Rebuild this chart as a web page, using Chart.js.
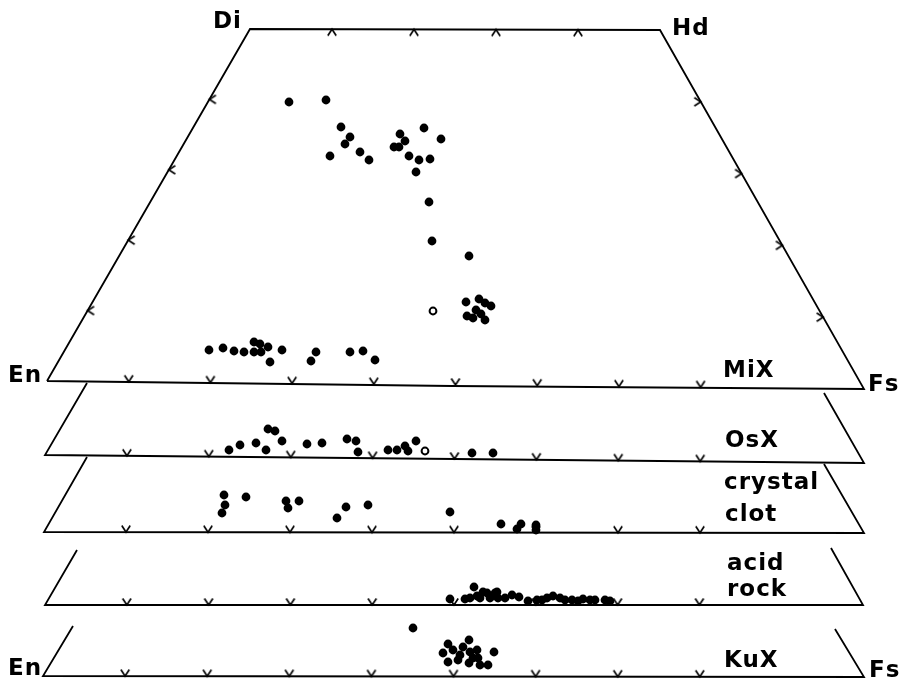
<!DOCTYPE html>
<html>
<head>
<meta charset="utf-8">
<script src="https://cdn.jsdelivr.net/npm/chart.js@4.4.1/dist/chart.umd.min.js"></script>
<style>
  body { margin: 0; background: #fff; }
  canvas { display: block; }
</style>
</head>
<body>
<canvas id="quad" width="904" height="681"></canvas>
<script>
// diagram units: x across the sheet, y down the sheet
const corners = {
    En: [47, 381], Di: [250, 29], Hd: [660, 30], Fs: [864, 389]
};
// stacked panels below the quadrilateral: [left top, left bottom, right bottom, right top]
const panelEdges = [
    [[87, 383], [45, 455], [864, 463], [824, 393]],   // OsX
    [[87, 457], [44, 532], [864, 533], [824, 464]],   // crystal clot
    [[77, 550], [45, 605], [863, 605], [831, 548]],   // acid rock
    [[73, 626], [43, 676], [864, 677], [835, 629]]    // KuX
];
const bottomTicks = [0.1, 0.2, 0.3, 0.4, 0.5, 0.6, 0.7, 0.8];
const sideTicks = [0.2, 0.4, 0.6, 0.8];

const mix = [
    [289, 102], [326, 100], [341, 127], [350, 137], [345, 144], [330, 156], [360, 152], [369, 160],
    [400, 134], [405, 141], [394, 147], [399, 147], [424, 128], [441, 139], [409, 156], [419, 160],
    [430, 159], [416, 172], [429, 202], [432, 241], [469, 256],
    [466, 302], [479, 299], [485, 303], [491, 306], [476, 310], [467, 316], [473, 318], [485, 320], [481, 314],
    [209, 350], [223, 348], [234, 351], [244, 352], [254, 342], [260, 344], [254, 352], [261, 352],
    [268, 347], [270, 362], [282, 350], [311, 361], [316, 352], [350, 352], [363, 351], [375, 360]
];
const mixOpen = [[433, 311]];
const osx = [
    [229, 450], [240, 445], [256, 443], [266, 450], [268, 429], [275, 431], [282, 441], [307, 444],
    [322, 443], [347, 439], [356, 441], [358, 452], [388, 450], [397, 450], [405, 446], [408, 451],
    [416, 441], [472, 453], [493, 453]
];
const osxOpen = [[425, 451]];
const clot = [
    [224, 495], [225, 505], [222, 513], [246, 497], [286, 501], [288, 508], [299, 501], [337, 518],
    [346, 507], [368, 505], [450, 512], [501, 524], [517, 529], [521, 524], [536, 525], [536, 530]
];
const acid = [
    [450, 599], [474, 587], [465, 599], [470, 598], [477, 596], [480, 598], [487, 593], [490, 598],
    [495, 593], [498, 598], [505, 598], [512, 595], [519, 597], [528, 601], [537, 600], [542, 600],
    [547, 598], [553, 596], [560, 598], [565, 600], [572, 600], [578, 601], [583, 599], [590, 600],
    [595, 600], [605, 600], [610, 601], [483, 592], [497, 592]
];
const kux = [
    [413, 628], [448, 644], [443, 653], [448, 662], [453, 650], [460, 655], [463, 647], [469, 640],
    [470, 652], [469, 663], [477, 650], [478, 658], [480, 665], [488, 665], [494, 652], [458, 660],
    [473, 658]
];

const labels = [
    {text: 'Di', at: [213, 28]}, {text: 'Hd', at: [672, 35]},
    {text: 'En', at: [8, 382]}, {text: 'Fs', at: [868, 391]},
    {text: 'MiX', at: [723, 377]}, {text: 'OsX', at: [725, 447]},
    {text: 'crystal', at: [724, 489]}, {text: 'clot', at: [725, 521]},
    {text: 'acid', at: [727, 570]}, {text: 'rock', at: [727, 596]},
    {text: 'KuX', at: [724, 667]},
    {text: 'En', at: [8, 675]}, {text: 'Fs', at: [869, 677]}
];

const pt = p => ({x: p[0], y: p[1]});
const along = (a, b, t) => ({x: a[0] + (b[0] - a[0]) * t, y: a[1] + (b[1] - a[1]) * t});

// small open chevron used for the scale ticks, vertex at the centre
const chevron = document.createElement('canvas');
chevron.width = 16; chevron.height = 16;
(function () {
    const c = chevron.getContext('2d');
    c.strokeStyle = '#000';
    c.lineWidth = 1.7;
    c.beginPath();
    c.moveTo(3.8, 1.5); c.lineTo(8, 8); c.lineTo(12.2, 1.5);
    c.stroke();
})();

const lineSet = pts => ({
    type: 'line', data: pts.map(pt), showLine: true, borderColor: '#000', borderWidth: 1.8,
    pointRadius: 0, fill: false, tension: 0
});
const tickSet = (pts, rot) => ({
    data: pts, pointStyle: chevron, rotation: rot, pointRadius: 8, showLine: false
});
const dotSet = pts => ({
    data: pts.map(pt), pointStyle: 'circle', pointRadius: 4.4, backgroundColor: '#000',
    borderColor: '#000', borderWidth: 0
});
const ringSet = pts => ({
    data: pts.map(pt), pointStyle: 'circle', pointRadius: 3.4, backgroundColor: '#fff',
    borderColor: '#000', borderWidth: 2
});

const {En, Di, Hd, Fs} = corners;
const datasets = [
    lineSet([En, Di, Hd, Fs, [452, 386], En]),
    tickSet(bottomTicks.map(t => along(En, Fs, t)), 0),
    tickSet(sideTicks.map(t => along(Di, Hd, t)), 180),
    tickSet(sideTicks.map(t => along(Di, En, t)), 90),
    tickSet(sideTicks.map(t => along(Hd, Fs, t)), -90)
];
panelEdges.forEach(e => {
    datasets.push(lineSet(e));
    datasets.push(tickSet(bottomTicks.map(t => along(e[1], e[2], t)), 0));
});
[mix, osx, clot, acid, kux].forEach(s => datasets.push(dotSet(s)));
datasets.push(ringSet(mixOpen), ringSet(osxOpen));

const labelPlugin = {
    id: 'labels',
    afterDraw(chart) {
        const {ctx, scales} = chart;
        ctx.save();
        ctx.fillStyle = '#000';
        ctx.font = 'bold 23px "DejaVu Sans"';
        ctx.letterSpacing = '1px';
        ctx.textBaseline = 'alphabetic';
        labels.forEach(l => {
            ctx.fillText(l.text, scales.x.getPixelForValue(l.at[0]), scales.y.getPixelForValue(l.at[1]));
        });
        ctx.restore();
    }
};

new Chart(document.getElementById('quad'), {
    type: 'scatter',
    data: {datasets},
    options: {
        responsive: false,
        animation: false,
        events: [],
        layout: {padding: 0, autoPadding: false},
        plugins: {legend: {display: false}, tooltip: {enabled: false}},
        scales: {
            x: {type: 'linear', min: 0, max: 904, display: false},
            y: {type: 'linear', min: 0, max: 681, reverse: true, display: false}
        }
    },
    plugins: [labelPlugin]
});
</script>
</body>
</html>
